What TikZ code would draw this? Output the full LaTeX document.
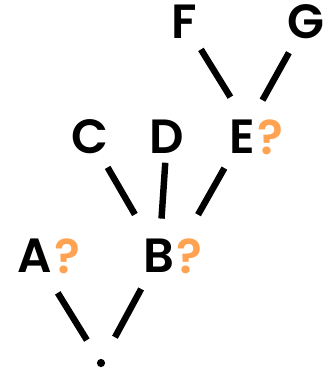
\documentclass[tikz,border=0pt]{standalone}
\usepackage{fontspec}
\setmainfont{Poppins}
\newfontfamily\treefont{Poppins SemiBold}
\usepackage{xcolor}
\definecolor{qorange}{RGB}{255, 162, 82}
\usetikzlibrary{positioning}

\begin{document}
\begin{tikzpicture}[
    x=0.03cm, y=-0.03cm,
    letter/.style={inner sep=0pt, font=\fontsize{41}{44}\selectfont\treefont},
    qmark/.style={inner sep=0pt, anchor=west, xshift=1.5pt, text=qorange, font=\fontsize{41}{44}\selectfont\treefont},
    edge/.style={line width=5.5pt}
]
    \useasboundingbox (0,0) rectangle (328,370);

    % root and first level
    \node[circle, fill=black, inner sep=0pt, minimum size=7pt] (root) at (101, 363) {};
    \node[letter] (A) at (35, 256) {A};
    \node[qmark] (Aq) at (A.east) {?};
    \node[letter] (B) at (159, 256) {B};
    \node[qmark] (Bq) at (B.east) {?};

    % children of B
    \node[letter] (C) at (90, 137) {C};
    \node[letter] (D) at (167, 137) {D};
    \node[letter] (E) at (242, 137) {E};
    \node[qmark] (Eq) at (E.east) {?};

    % children of E
    \node[letter] (F) at (184, 22) {F};
    \node[letter] (G) at (306, 22) {G};

    \draw[edge, shorten <=23pt, shorten >=37pt] (root.center) -- (A.center);
    \draw[edge, shorten <=25pt, shorten >=32pt] (root.center) -- (B.center);
    \draw[edge, shorten <=41pt, shorten >=30pt] (B.center) -- (C.center);
    \draw[edge, shorten <=32pt, shorten >=22pt] (B.center) -- (D.center);
    \draw[edge, shorten <=40.5pt, shorten >=30.5pt] (B.east) -- (E.center);
    \draw[edge, shorten <=40pt, shorten >=27.5pt] (E.east) -- (F.center);
    \draw[edge, shorten <=36pt, shorten >=30pt] (E.center) -- (G.center);
\end{tikzpicture}
\end{document}
